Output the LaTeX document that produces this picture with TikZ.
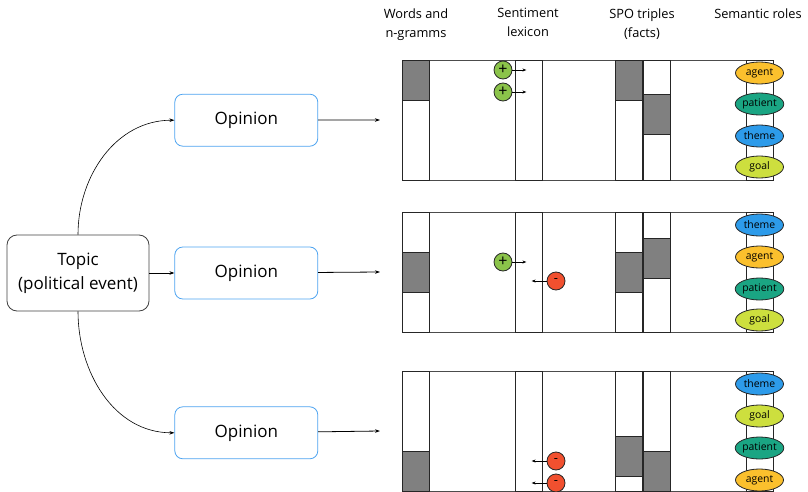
\documentclass[tikz,border=0pt]{standalone}
\usepackage{fontspec}
\setmainfont{Open Sans}
\usepackage{tikz}
\usetikzlibrary{arrows.meta,shapes,positioning,shapes.geometric}
\definecolor{opblue}{HTML}{4DA3F0}
\definecolor{posc}{HTML}{8BC34A}
\definecolor{negc}{HTML}{F1502F}
\definecolor{agentc}{HTML}{FBC02D}
\definecolor{patientc}{HTML}{1AA583}
\definecolor{themec}{HTML}{2D9BEA}
\definecolor{goalc}{HTML}{CDDF3E}
\tikzset{
topic_n/.style = {rectangle, rounded corners=10pt, draw=black!75, align=center, minimum width=142, minimum height=76, inner sep=0pt, font=\fontsize{17}{24}\selectfont},
opin_n/.style = {rectangle, rounded corners=8pt, draw=opblue, thick, minimum width=143, minimum height=52, inner sep=0pt, font=\fontsize{17}{20}\selectfont},
head_t/.style = {align=center, anchor=north, inner sep=0pt, font=\fontsize{12.8}{19}\selectfont},
panel/.style = {rectangle, draw=black!70, anchor=north west, minimum width=371, minimum height=120, inner sep=0pt, outer sep=0pt},
col_w/.style = {rectangle, draw=black!85, fill=white, anchor=north west, minimum width=27, minimum height=120, inner sep=0pt, outer sep=0pt},
gray_b/.style = {rectangle, draw=black!85, fill=black!50, anchor=north west, minimum width=27, minimum height=40, inner sep=0pt, outer sep=0pt},
role/.style = {ellipse, draw=black!85, minimum width=48, minimum height=22, inner sep=0pt, font=\fontsize{10.4}{11}\selectfont},
pos_s/.style = {circle, draw=black!85, fill=posc, minimum size=18, inner sep=0pt, font=\fontsize{16}{16}\selectfont},
neg_s/.style = {circle, draw=black!85, fill=negc, minimum size=18, inner sep=0pt, font=\fontsize{13}{13}\selectfont},
lex/.style = {-{Stealth[length=4pt,width=3pt]}, black}
}
\begin{document}
\begin{tikzpicture}[x=1pt,y=-1pt,>={Stealth[length=5pt,width=3.5pt]}, line width=0.8pt]
\useasboundingbox (0,0) rectangle (808,492);
% topic and opinions
\node [topic_n] (topic) at (78,273) {Topic\\(political event)};
\node [opin_n] (op2) [right=25pt of topic] {Opinion};
\node [opin_n] (op1) [above=100pt of op2] {Opinion};
\node [opin_n] (op3) [below=107pt of op2] {Opinion};
\draw [->, line width=0.6pt] (topic.north) to[out=90,in=180] (op1.west);
\draw [->, line width=0.6pt] (topic) -- (op2);
\draw [->, line width=0.6pt] (topic.south) to[out=-90,in=180] (op3.west);
% headers
\node [head_t] (h1) at (416,8) {Words and\\n-gramms};
\node [head_t] (h2) at (528,8) {Sentiment\\lexicon};
\node [head_t] (h3) at (642,8) {SPO triples\\(facts)};
\node [head_t] (h4) at (758,8) {Semantic roles};
% panels with their columns
\foreach \p/\y in {a/60,b/212,c/371}{
  \node [panel] (p\p) at (402,\y) {};
  \node [col_w] (w\p) at (402,\y) {};
  \node [col_w] (s\p) at (515,\y) {};
  \node [col_w] (f\p) at (615,\y) {};
  \node [col_w] (g\p) at (643,\y) {};
  \node [col_w] (r\p) at (746,\y) {};
}
\draw [->] (op1) -- (pa.west -| 380,0);
\draw [->] (op2) -- (pb.west -| 380,0);
\draw [->] (op3) -- (pc.west -| 380,0);
% gray blocks
\node [gray_b] (wa1) at (402,60) {};
\node [gray_b] (fa1) at (615,60) {};
\node [gray_b] (ga1) at (643,94) {};
\node [gray_b] (wb1) at (402,252) {};
\node [gray_b] (fb1) at (615,252) {};
\node [gray_b] (gb1) at (643,238) {};
\node [gray_b] (wc1) at (402,451) {};
\node [gray_b] (fc1) at (615,436) {};
\node [gray_b] (gc1) at (643,451) {};
% semantic roles
\node [role, fill=agentc] (ra1) at (759.5,73) {agent};
\node [role, fill=patientc] (ra2) at (759.5,104) {patient};
\node [role, fill=themec] (ra3) at (759.5,136) {theme};
\node [role, fill=goalc] (ra4) at (759.5,167) {goal};
\node [role, fill=themec] (rb1) at (759.5,225) {theme};
\node [role, fill=agentc] (rb2) at (759.5,257) {agent};
\node [role, fill=patientc] (rb3) at (759.5,289) {patient};
\node [role, fill=goalc] (rb4) at (759.5,320) {goal};
\node [role, fill=themec] (rc1) at (759.5,384) {theme};
\node [role, fill=goalc] (rc2) at (759.5,416) {goal};
\node [role, fill=patientc] (rc3) at (759.5,448) {patient};
\node [role, fill=agentc] (rc4) at (759.5,480) {agent};
% sentiment marks
\node [pos_s] (sa1) at (503,70) {+};
\node [pos_s] (sa2) at (503,92) {+};
\node [pos_s] (sb1) at (503,262) {+};
\node [neg_s] (sb2) at (556,281) {-};
\node [neg_s] (sc1) at (556,461) {-};
\node [neg_s] (sc2) at (556,483) {-};
\coordinate [right=14pt of sa1] (ea1);
\coordinate [right=14pt of sa2] (ea2);
\coordinate [right=14pt of sb1] (eb1);
\coordinate [left=15pt of sb2] (eb2);
\coordinate [left=15pt of sc1] (ec1);
\coordinate [left=15pt of sc2] (ec2);
\draw [lex] (sa1) -- (ea1);
\draw [lex] (sa2) -- (ea2);
\draw [lex] (sb1) -- (eb1);
\draw [lex] (sb2) -- (eb2);
\draw [lex] (sc1) -- (ec1);
\draw [lex] (sc2) -- (ec2);
\end{tikzpicture}
\end{document}
